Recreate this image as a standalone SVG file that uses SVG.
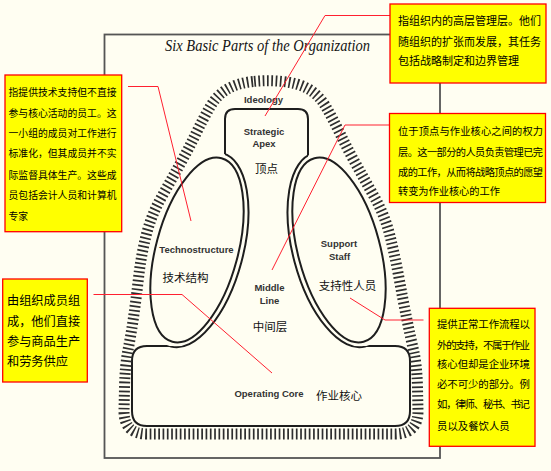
<svg xmlns="http://www.w3.org/2000/svg" width="551" height="471" viewBox="0 0 551 471">
<style>
.ln{fill:none;stroke:#1e1e1e;stroke-width:2}
.cover{fill:#fffef2;stroke:none}
.lab{font-family:"Liberation Sans",Arial,sans-serif;font-weight:bold;font-size:9.5px;fill:#333;text-anchor:middle}
.cn{font-family:"Noto Sans CJK SC","Noto Sans",sans-serif;font-size:11.5px;fill:#111;text-anchor:middle}
.box{fill:#ffff00;stroke:#ff0000;stroke-width:1.3}
.bt{font-family:"Noto Sans CJK SC","Noto Sans",sans-serif;fill:#000}
.con{fill:none;stroke:#ff2030;stroke-width:1}
.hatch{fill:none;stroke:#2e2e2e;stroke-width:11;stroke-dasharray:1.7 2.6}
</style>
<defs>
<clipPath id="clipR">
<path d="M 235,109 H 298 Q 308,109 308,119 V 158 L 322,200 L 344,300 L 352,340 L 358,346 H 395 Q 410,346 410,361 V 411 Q 410,426 395,426 H 147 Q 132,426 132,411 V 361 Q 132,346 147,346 H 178 L 184,340 L 192,300 L 214,200 L 225,158 V 119 Q 225,109 235,109 Z"/>
</clipPath>
</defs>
<rect x="0" y="0" width="551" height="471" fill="#fffef2"/>
<g id="frame">
<rect x="104.5" y="34.5" width="335.5" height="423.5" fill="none" stroke="#555" stroke-width="1.8"/>
<text x="267.5" y="51" font-family="'Liberation Serif','Times New Roman',serif" font-style="italic" font-size="17" fill="#151515" text-anchor="middle" textLength="205" lengthAdjust="spacingAndGlyphs">Six Basic Parts of the Organization</text>
</g>
<g id="organization-outline">
<path class="ln" d="M 235,109 H 298 Q 308,109 308,119 V 158 L 322,200 L 344,300 L 352,340 L 358,346 H 395 Q 410,346 410,361 V 411 Q 410,426 395,426 H 147 Q 132,426 132,411 V 361 Q 132,346 147,346 H 178 L 184,340 L 192,300 L 214,200 L 225,158 V 119 Q 225,109 235,109 Z" style="fill:#fffef2"/>
<ellipse class="cover" cx="197" cy="250" rx="46" ry="100" transform="rotate(15 197 250)"/>
<ellipse class="cover" cx="339" cy="250" rx="46" ry="100" transform="rotate(-15 339 250)"/>
<g clip-path="url(#clipR)">
<ellipse class="ln" cx="197" cy="250" rx="46" ry="100" transform="rotate(15 197 250)"/>
<ellipse class="ln" cx="339" cy="250" rx="46" ry="100" transform="rotate(-15 339 250)"/>
</g>
</g>
<g id="ideology">
<path class="hatch" d="M 253,81.5 Q 238,83 227.5,89 Q 217,95 210,107 Q 203,119 195.5,134.5 Q 188,150 179,166 Q 170,182 160.5,199 Q 151,216 146,236 Q 141,256 138.5,278 Q 136,300 133.5,317.5 Q 131,335 128,350 Q 125,365 124.5,388 L 124,411 Q 124,434 147,434 L 395,434 Q 418,434 418,411 L 417.5,388 Q 417,365 413.5,350 Q 410,335 406.5,317.5 Q 403,300 399,278 Q 395,256 390,236 Q 385,216 375.5,199 Q 366,182 357,166 Q 348,150 340.5,134.5 Q 333,119 326,107 Q 319,95 308.5,89 Q 298,83 283,81.5 Q 268,80 253,81.5 Z"/>
<text class="lab" x="263.5" y="103">Ideology</text>
</g>
<g id="strategic-apex">
<text class="lab" x="264" y="135">Strategic</text>
<text class="lab" x="264" y="147">Apex</text>
<text class="cn" x="266.5" y="172.5">顶点</text>
</g>
<g id="middle-line">
<text class="lab" x="269.5" y="291">Middle</text>
<text class="lab" x="269.5" y="304">Line</text>
<text class="cn" x="270" y="330.5">中间层</text>
</g>
<g id="technostructure">
<ellipse class="ln" cx="197" cy="250" rx="41" ry="95" transform="rotate(15 197 250)"/>
<text class="lab" x="196.5" y="252.5">Technostructure</text>
<text class="cn" x="185.5" y="281.5">技术结构</text>
</g>
<g id="support-staff">
<ellipse class="ln" cx="339" cy="250" rx="41" ry="95" transform="rotate(-15 339 250)"/>
<text class="lab" x="339" y="247">Support</text>
<text class="lab" x="339.5" y="260">Staff</text>
<text class="cn" x="347.5" y="289.5">支持性人员</text>
</g>
<g id="operating-core">
<text class="lab" x="269" y="397">Operating Core</text>
<text class="cn" x="339" y="400">作业核心</text>
</g>
<g id="connectors">
<polyline class="con" points="390,15.5 325,15.5 265,116"/>
<polyline class="con" points="389.5,125 345,125 272,270"/>
<polyline class="con" points="128,86.5 158,86.5 191,221"/>
<polyline class="con" points="93.5,294.5 182,294.5 272,373"/>
<polyline class="con" points="423.5,320 385,320 350,298"/>
</g>
<g id="callout-apex">
<rect class="box" x="390" y="4" width="156" height="79"/>
<text class="bt" font-size="11" x="398" y="25">指组织内的高层管理层。他们</text>
<text class="bt" font-size="11" x="398" y="46">随组织的扩张而发展，其任务</text>
<text class="bt" font-size="11" x="398" y="65">包括战略制定和边界管理</text>
</g>
<g id="callout-middle">
<rect class="box" x="389.5" y="113.5" width="156" height="89"/>
<text class="bt" font-size="10.2" x="398" y="135" textLength="145" lengthAdjust="spacing">位于顶点与作业核心之间的权力</text>
<text class="bt" font-size="10.2" x="398" y="156" textLength="145" lengthAdjust="spacing">层。这一部分的人员负责管理已完</text>
<text class="bt" font-size="10.2" x="398" y="176" textLength="145" lengthAdjust="spacing">成的工作，从而将战略顶点的愿望</text>
<text class="bt" font-size="10.2" x="398" y="195">转变为作业核心的工作</text>
</g>
<g id="callout-techno">
<rect class="box" x="5" y="75" width="116.7" height="156.7"/>
<text class="bt" font-size="9.8" x="8.5" y="96" textLength="108" lengthAdjust="spacing">指提供技术支持但不直接</text>
<text class="bt" font-size="9.8" x="8.5" y="117" textLength="108" lengthAdjust="spacing">参与核心活动的员工。这</text>
<text class="bt" font-size="9.8" x="8.5" y="137" textLength="108" lengthAdjust="spacing">一小组的成员对工作进行</text>
<text class="bt" font-size="9.8" x="8.5" y="157" textLength="108" lengthAdjust="spacing">标准化，但其成员并不实</text>
<text class="bt" font-size="9.8" x="8.5" y="179" textLength="108" lengthAdjust="spacing">际监督具体生产。这些成</text>
<text class="bt" font-size="9.8" x="8.5" y="199" textLength="108" lengthAdjust="spacing">员包括会计人员和计算机</text>
<text class="bt" font-size="9.8" x="8.5" y="220">专家</text>
</g>
<g id="callout-core">
<rect class="box" x="2.7" y="279" width="84.6" height="103"/>
<text class="bt" font-size="12.2" x="7" y="304.5">由组织成员组</text>
<text class="bt" font-size="12.2" x="7" y="325.5">成，他们直接</text>
<text class="bt" font-size="12.2" x="7" y="345.5">参与商品生产</text>
<text class="bt" font-size="12.2" x="7" y="365.5">和劳务供应</text>
</g>
<g id="callout-support">
<rect class="box" x="429.3" y="308.3" width="105.7" height="138"/>
<text class="bt" font-size="10.4" x="437" y="328" textLength="93" lengthAdjust="spacing">提供正常工作流程以</text>
<text class="bt" font-size="10.4" x="437" y="348.5" textLength="93" lengthAdjust="spacing">外的支持，不属于作业</text>
<text class="bt" font-size="10.4" x="437" y="367.5" textLength="93" lengthAdjust="spacing">核心但却是企业环境</text>
<text class="bt" font-size="10.4" x="437" y="387.5" textLength="93" lengthAdjust="spacing">必不可少的部分。例</text>
<text class="bt" font-size="10.4" x="437" y="407.5" textLength="93" lengthAdjust="spacing">如，律师、秘书、书记</text>
<text class="bt" font-size="10.4" x="437" y="430">员以及餐饮人员</text>
</g>
</svg>
